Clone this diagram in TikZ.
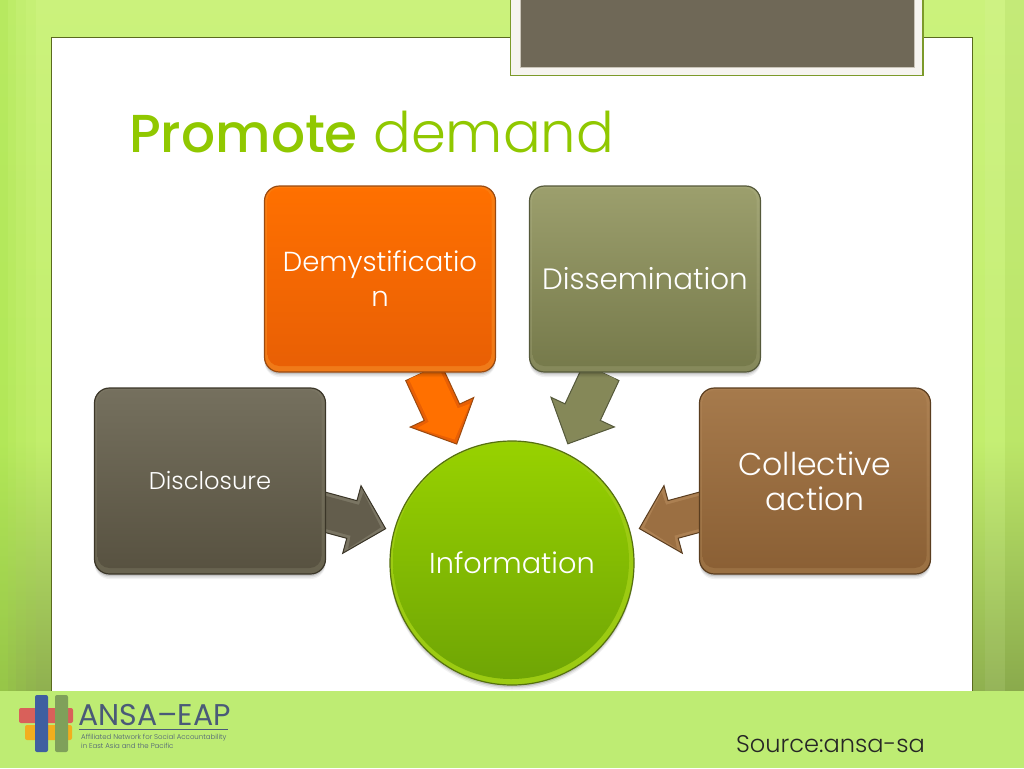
\documentclass[tikz,border=0pt]{standalone}
\usepackage{fontspec}
\setmainfont{Poppins}[UprightFont=* Light,BoldFont=* Medium]
\newfontfamily\logofont{Poppins}
\usetikzlibrary{calc,shadows}
\pgfdeclarelayer{bglayer}
\pgfdeclarelayer{arrowlayer}
\pgfsetlayers{bglayer,arrowlayer,main}
\definecolor{panelline}{HTML}{5A6A1E}
\definecolor{footergreen}{HTML}{BEEC73}
\definecolor{titlegreen}{HTML}{90C800}
\definecolor{taupe}{HTML}{6F6857}
\definecolor{bgtop}{HTML}{CBF27C}
\definecolor{bgmid}{HTML}{C2EE6C}
\definecolor{bgbot}{HTML}{8FB04F}
\definecolor{bgedge}{HTML}{A0E040}
\definecolor{logotext}{HTML}{4A5A78}
\definecolor{tabpaper}{HTML}{F6F4F0}
\definecolor{tabline}{HTML}{7C9A2A}
\definecolor{tabinner}{HTML}{C9C4B8}
\definecolor{HubTop}{HTML}{98D200}
\definecolor{HubBot}{HTML}{6EA405}
\definecolor{HubRim}{HTML}{9CCB12}
\definecolor{HubLine}{HTML}{55700F}
\definecolor{orA}{HTML}{FF7000}\definecolor{orB}{HTML}{E85F05}\definecolor{orC}{HTML}{FA7C10}\definecolor{orD}{HTML}{F07A18}\definecolor{orE}{HTML}{9A4A10}
\definecolor{olA}{HTML}{9C9F6D}\definecolor{olB}{HTML}{75794A}\definecolor{olC}{HTML}{A3A676}\definecolor{olD}{HTML}{85885A}\definecolor{olE}{HTML}{55593A}
\definecolor{tpA}{HTML}{75705E}\definecolor{tpB}{HTML}{575140}\definecolor{tpC}{HTML}{7A7563}\definecolor{tpD}{HTML}{68634F}\definecolor{tpE}{HTML}{3B3628}
\definecolor{brA}{HTML}{A67A4C}\definecolor{brB}{HTML}{8A5F34}\definecolor{brC}{HTML}{AC8052}\definecolor{brD}{HTML}{9A7042}\definecolor{brE}{HTML}{5A3D1F}
\definecolor{logored}{HTML}{D9605A}\definecolor{logoorange}{HTML}{F2AE1E}\definecolor{logoblue}{HTML}{3F5FA0}\definecolor{logogreen}{HTML}{7FA05A}
\tikzset{
  softshadow/.style={
    general shadow={shadow xshift=0pt,shadow yshift=-5pt,fill=black,opacity=.05},
    general shadow={shadow xshift=0pt,shadow yshift=-3.5pt,fill=black,opacity=.08},
    general shadow={shadow xshift=0pt,shadow yshift=-2pt,fill=black,opacity=.12}},
  card/.style n args={5}{draw=#5,line width=1.2pt,rounded corners=15pt,minimum width=231pt,minimum height=186pt,
    top color=#3,bottom color=#4,text=white,align=center,inner sep=0pt,softshadow,
    path picture={\shade[top color=#1,bottom color=#2,rounded corners=12pt]
      ($(path picture bounding box.north west)+(3,2)$) rectangle ($(path picture bounding box.south east)+(-4,-6)$);}},
  hub/.style={circle,draw=HubLine,line width=1.2pt,minimum size=244pt,inner sep=0pt,fill=HubRim,text=white,softshadow,
    path picture={\shade[top color=HubTop,bottom color=HubBot]
      ($(path picture bounding box.center)+(-1,-2)$) circle[radius=118];}},
  lab/.style={font=\fontsize{#1}{35}\selectfont},
  blockarrow/.style={line width=1pt,line join=miter,
    to path={
      ($(\tikztostart)!103pt!(\tikztotarget)!19.5pt!90:(\tikztotarget)$) --
      ($(\tikztostart)!147pt!(\tikztotarget)!19.5pt!90:(\tikztotarget)$) --
      ($(\tikztostart)!147pt!(\tikztotarget)!35pt!90:(\tikztotarget)$) --
      ($(\tikztostart)!182pt!(\tikztotarget)$) --
      ($(\tikztostart)!147pt!(\tikztotarget)!35pt!-90:(\tikztotarget)$) --
      ($(\tikztostart)!147pt!(\tikztotarget)!19.5pt!-90:(\tikztotarget)$) --
      ($(\tikztostart)!103pt!(\tikztotarget)!19.5pt!-90:(\tikztotarget)$) -- cycle}},
  blockghost/.style={blockarrow,draw=none,fill=black,opacity=.13,yshift=-3pt},
  blockinner/.style={draw=none,
    to path={
      ($(\tikztostart)!103pt!(\tikztotarget)!16pt!90:(\tikztotarget)$) --
      ($(\tikztostart)!150pt!(\tikztotarget)!16pt!90:(\tikztotarget)$) --
      ($(\tikztostart)!151pt!(\tikztotarget)!29pt!90:(\tikztotarget)$) --
      ($(\tikztostart)!177pt!(\tikztotarget)$) --
      ($(\tikztostart)!151pt!(\tikztotarget)!29pt!-90:(\tikztotarget)$) --
      ($(\tikztostart)!150pt!(\tikztotarget)!16pt!-90:(\tikztotarget)$) --
      ($(\tikztostart)!103pt!(\tikztotarget)!16pt!-90:(\tikztotarget)$) -- cycle}},
  logobar/.style={rounded corners=2pt},
}
\begin{document}
\begin{tikzpicture}[x=1pt,y=-1pt]
\useasboundingbox (0,0) rectangle (1024,768);
% slide background
\begin{pgfonlayer}{bglayer}
\shade[top color=bgtop,bottom color=bgmid] (0,0) rectangle (1024,440);
\shade[top color=bgmid,bottom color=bgbot] (0,440) rectangle (1024,691);
\fill[bgedge,opacity=.45] (0,0) rectangle (8,691);
\fill[bgedge,opacity=.32] (8,0) rectangle (16,691);
\fill[bgedge,opacity=.2] (16,0) rectangle (26,691);
\fill[bgedge,opacity=.1] (26,0) rectangle (36,691);
\fill[white,opacity=.06] (985,0) rectangle (1005,691);
\fill[black,opacity=.03] (1005,0) rectangle (1024,691);
% white panel
\filldraw[fill=white,draw=panelline,line width=1pt] (51.5,37.5) rectangle (972.5,695);
% top tab
\filldraw[fill=tabpaper,draw=tabline,line width=1.4pt] (510.5,-2) rectangle (923,75.5);
\filldraw[fill=taupe,draw=tabinner,line width=.6pt] (520,-2) rectangle (914,67.5);
% footer
\fill[footergreen] (0,691) rectangle (1024,768);
\end{pgfonlayer}
% title
\node[anchor=base west,inner sep=0pt,text=titlegreen,font=\fontsize{56}{60}\selectfont] (title) at (129,152) {\textbf{\fontsize{53.4}{60}\selectfont Promote} demand};
% diagram nodes
\node[card={orA}{orB}{orC}{orD}{orE},lab=27.5] (demy) at (380,279) {\raisebox{1pt}{Demystificatio}\\\raisebox{1pt}{n}};
\node[card={olA}{olB}{olC}{olD}{olE},lab=29.4] (diss) at (645,279) {Dissemination};
\node[card={tpA}{tpB}{tpC}{tpD}{tpE},lab=24.2] (disc) at (210,481) {Disclosure};
\node[card={brA}{brB}{brC}{brD}{brE},lab=31.5] (coll) at (815,481) {Collective\\action};
\node[hub,lab=28.8] (info) at (512,563) {Information};
% block arrows (under the nodes)
\begin{pgfonlayer}{arrowlayer}
\path[blockghost] (demy.center) to (info.center);
\path[blockghost] (diss.center) to (info.center);
\path[blockghost] (disc.center) to (info.center);
\path[blockghost] (coll.center) to (info.center);
\path[blockarrow,draw=orE,fill=orB] (demy.center) to (info.center);
\path[blockinner,fill=orA] (demy.center) to (info.center);
\path[blockarrow,draw=olE,fill=olD] (diss.center) to (info.center);
\path[blockinner,fill=olB!60!olA] (diss.center) to (info.center);
\path[blockarrow,draw=tpE,fill=tpC] (disc.center) to (info.center);
\path[blockinner,fill=tpB!60!tpA] (disc.center) to (info.center);
\path[blockarrow,draw=brE,fill=brC] (coll.center) to (info.center);
\path[blockinner,fill=brB!40!brA] (coll.center) to (info.center);
\end{pgfonlayer}
% footer logo
\fill[logored,logobar] (19,708) rectangle (73,723);
\fill[logoorange,logobar] (25,725) rectangle (72,740);
\fill[logoblue,logobar] (35,695) rectangle (48,752);
\fill[logogreen,logobar] (55,695) rectangle (68,752);
\node[anchor=base west,inner sep=0pt,text=logotext,font=\logofont\fontsize{30}{34}\selectfont] (logoname) at (78,725) {ANSA–EAP};
\draw[logotext,line width=.5pt] (79,729.5) -- (228,729.5);
\node[anchor=base west,inner sep=0pt,text=logotext,font=\fontsize{7}{8}\selectfont] (logoa) at (81,739) {Affiliated Network for Social Accountability};
\node[anchor=base west,inner sep=0pt,text=logotext,font=\fontsize{7}{8}\selectfont] (logob) at (81,748.5) {in East Asia and the Pacific};
\node[anchor=base west,inner sep=0pt,text=black!85,font=\fontsize{24.1}{28}\selectfont] (source) at (736,752) {Source:ansa-sa};
\end{tikzpicture}
\end{document}
